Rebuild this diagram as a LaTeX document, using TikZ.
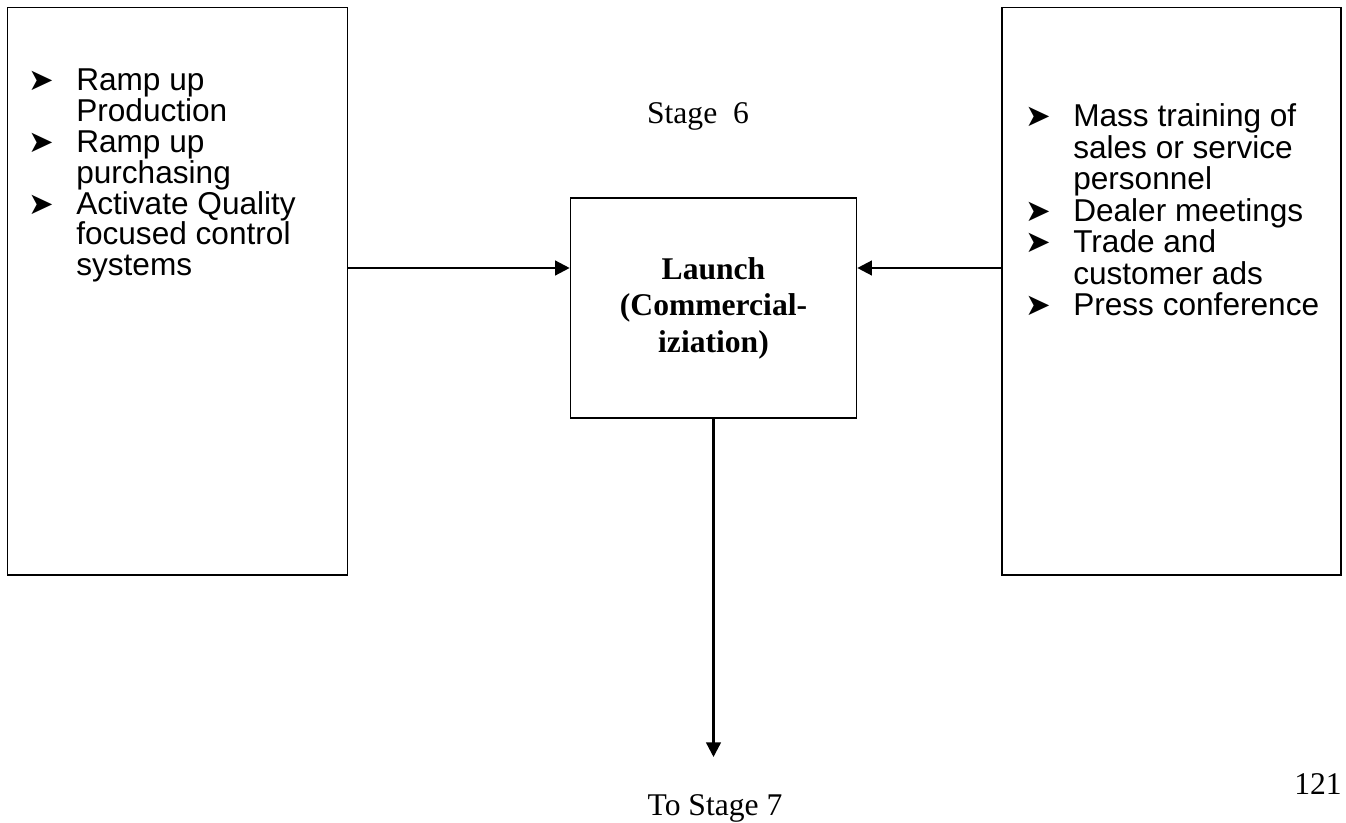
\documentclass[tikz,border=0pt]{standalone}
\usepackage{fontspec}
\setmainfont{Liberation Serif}
\newfontfamily\arialfont{Liberation Sans}
\newfontfamily\dejavu{DejaVu Sans}
\usetikzlibrary{arrows.meta}
\newcommand{\bul}{\makebox[36pt][l]{\fontsize{23}{23}\selectfont\dejavu ➤}}
\newcommand{\cont}{\hspace*{36pt}}
\tikzset{
  box/.style={draw,line width=1.2pt,inner sep=0pt},
  flow/.style={line width=1.8pt,-{Triangle[length=11pt,width=11pt]}},
  listtext/.style={font=\arialfont\fontsize{23.7}{23.1}\selectfont,anchor=base west,inner sep=0pt},
  serif/.style={font=\fontsize{23.7}{27.4}\selectfont,inner sep=0pt}
}

\begin{document}
\begin{tikzpicture}[x=0.75pt,y=-0.75pt]
\useasboundingbox (0,0) rectangle (1346,823);
\node[box,minimum width=255pt,minimum height=425.6pt] (leftbox) at (177.5,291.25) {};
\node[box,minimum width=254.25pt,minimum height=425.6pt] (rightbox) at (1171.5,291.25) {};
\node[box,minimum width=214.5pt,minimum height=165pt,align=center,font=\bfseries\fontsize{23.7}{27.4}\selectfont] (launch) at (713.5,308) {Launch\\(Commercial-\\iziation)};
\foreach \t [count=\i from 0] in {{\bul Ramp up},{\cont Production},{\bul Ramp up},{\cont purchasing},{\bul Activate Quality},{\cont focused control},{\cont systems}}
  \node[listtext] (left\i) at (28,{91+\i*30.8}) {\t};
\foreach \t [count=\i from 0] in {{\bul Mass training of},{\cont sales or service},{\cont personnel},{\bul Dealer meetings},{\bul Trade and},{\cont customer ads},{\bul Press conference}}
  \node[listtext] (right\i) at (1025,{127+\i*31.5}) {\t};
\node[serif,anchor=base] (stage) at (698,124) {Stage\ \ 6};
\coordinate (armrow) at (0,268);
\draw[flow] (leftbox.east |- armrow) -- (launch.west |- armrow);
\draw[flow] (rightbox.west |- armrow) -- (launch.east |- armrow);
\coordinate (down) at (712,757);
\draw[flow] (launch.south) -- (launch.south |- down);
\node[serif,anchor=base] (tostage) at (715,815) {To Stage 7};
\node[serif,anchor=base west] (page) at (1294,794) {121};
\end{tikzpicture}
\end{document}
